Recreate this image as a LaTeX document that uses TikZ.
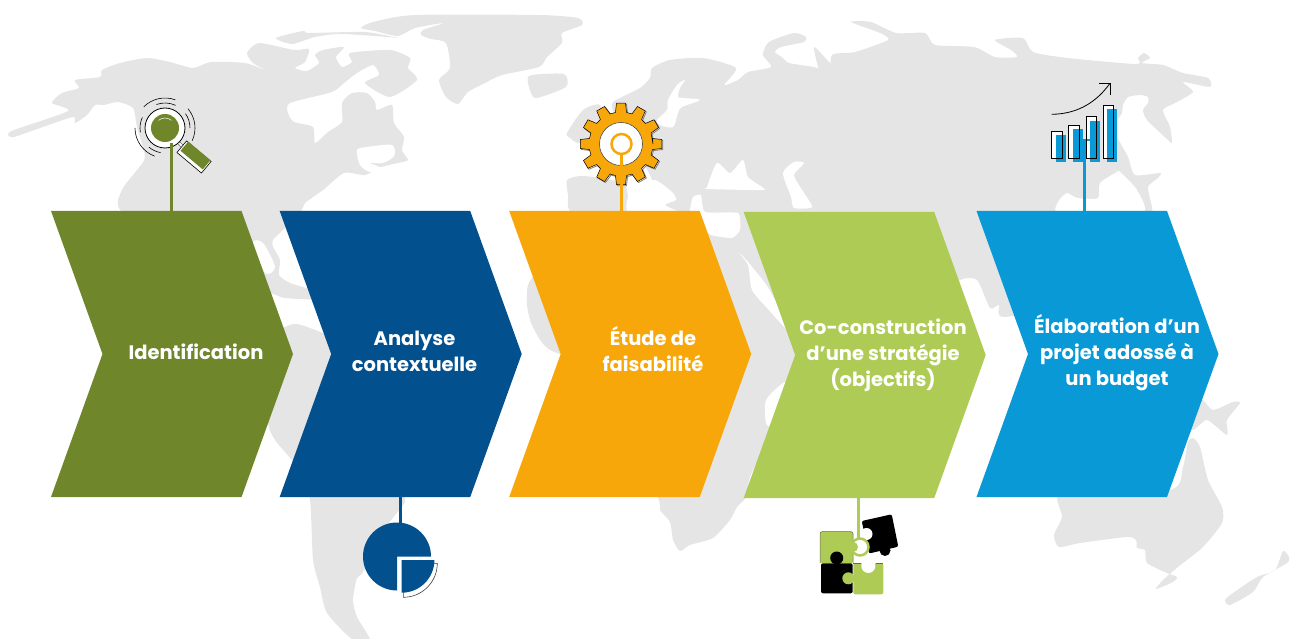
\documentclass[tikz,border=0pt]{standalone}
\usepackage{fontspec}
\setmainfont{Poppins}
\usetikzlibrary{shapes.symbols}
\definecolor{landgray}{HTML}{E5E5E5}
\definecolor{olivegreen}{HTML}{6F862B}
\definecolor{navyblue}{HTML}{03508F}
\definecolor{amber}{HTML}{F8A70A}
\definecolor{limegreen}{HTML}{AECB55}
\definecolor{skyblue}{HTML}{0899D6}
\tikzset{
	chevron/.style={signal, signal from=west, signal to=east, signal pointer angle=140.4, minimum width=242pt, minimum height=286pt, inner sep=0pt, outer sep=0pt},
	steptext/.style={align=center, text=white, inner sep=0pt, font=\bfseries\fontsize{19.5}{26}\selectfont},
	stem/.style={line width=3pt},
	land/.style={fill=landgray, draw=none},
	sea/.style={fill=white, draw=none},
	inkline/.style={black, line width=0.6pt},
}
\newcommand{\gearoutline}{(0:32) \foreach \a in {0,30,...,330} {-- (\a-10:32) -- (\a-6.3:41) -- (\a+6.3:41) -- (\a+10:32)} -- cycle}

\begin{document}
\begin{tikzpicture}[x=1pt,y=-1pt]
	\useasboundingbox (0,0) rectangle (1293,639);
	\fill[land] plot[smooth cycle, tension=0.4] coordinates {(8,135) (14,130) (68,111) (52,103) (62,93) (79,88) (75,80) (100,77) (102,70) (120,63) (147,58) (170,62) (193,68) (211,62) (245,63) (265,70) (253,63) (247,53) (259,43) (294,50) (309,49) (305,62) (295,68) (307,71) (319,63) (315,55) (323,50) (344,47) (336,57) (342,67) (352,62) (350,53) (390,50) (410,58) (408,68) (417,80) (390,97) (365,83) (379,75) (373,65) (357,73) (344,83) (332,92) (290,103) (288,113) (294,122) (313,127) (315,143) (328,132) (342,122) (342,103) (352,93) (367,93) (375,102) (377,110) (392,105) (394,123) (404,137) (402,150) (408,160) (398,163) (381,167) (365,175) (344,173) (323,190) (305,203) (301,212) (283,230) (273,240) (273,247) (280,260) (279,275) (290,283) (308,289) (312,299) (285,298) (276,295) (262,290) (200,260) (122,212) (122,190) (137,170) (145,157) (137,127) (133,108) (118,102) (104,105) (95,105) (87,115) (75,123) (73,117) (40,128) (14,137)};
	\fill[sea] plot[smooth cycle, tension=0.5] coordinates {(357,150) (367,147) (392,145) (394,156) (383,163) (370,163) (381,168) (370,172) (360,165)};
	\fill[sea] plot[smooth cycle, tension=0.5] coordinates {(253,243) (263,243) (275,267) (265,273)};
	\fill[land] plot[smooth cycle, tension=0.4] coordinates {(276,38) (303,31) (309,33) (365,32) (398,38) (388,37) (340,34) (315,37) (292,44)};
	\fill[land] plot[smooth cycle, tension=0.4] coordinates {(361,28) (373,22) (415,15) (539,15) (578,18) (582,25) (562,33) (562,43) (547,57) (539,67) (502,75) (485,83) (468,92) (458,104) (446,97) (439,80) (450,68) (446,43) (431,39) (421,35) (423,30) (444,23) (415,28) (398,36) (375,31)};
	\fill[land] plot[smooth cycle, tension=0.4] coordinates {(529,76) (564,74) (566,87) (537,98) (531,93)};
	\fill[land] plot[smooth cycle, tension=0.4] coordinates {(567,133) (583,110) (600,105) (605,130) (580,143) (570,138)};
	\fill[land] plot[smooth cycle, tension=0.4] coordinates {(567,180) (580,176) (600,178) (625,185) (625,212) (572,212) (568,195)};
	\fill[land] plot[smooth cycle, tension=0.4] coordinates {(652,68) (670,60) (703,58) (736,68) (724,85) (738,80) (748,72) (771,67) (763,55) (769,42) (794,33) (806,37) (804,42) (781,47) (775,52) (783,58) (789,63) (814,67) (818,68) (814,47) (830,63) (841,75) (832,77) (832,55) (855,52) (888,40) (880,33) (851,22) (871,22) (896,33) (925,33) (935,45) (974,47) (995,57) (1017,57) (1011,50) (995,40) (1023,38) (1033,52) (1068,58) (1136,64) (1138,58) (1144,53) (1150,58) (1142,63) (1163,65) (1183,73) (1208,78) (1210,87) (1183,82) (1193,92) (1175,103) (1163,110) (1170,127) (1172,143) (1168,140) (1147,120) (1143,110) (1148,103) (1148,97) (1140,95) (1128,97) (1123,105) (1122,113) (1113,127) (1117,137) (1128,157) (1135,175) (1160,173) (1158,178) (1148,187) (1152,207) (1152,215) (1150,300) (1100,300) (1005,317) (999,305) (990,308) (977,280) (960,280) (940,300) (800,400) (700,300) (650,175) (620,135) (612,105) (620,98) (640,88) (650,78)};
	\fill[land] plot[smooth cycle, tension=0.4] coordinates {(600,225) (540,270) (528,285) (527,305) (532,325) (550,350) (620,380) (658,497) (660,510) (670,522) (673,540) (680,551) (690,545) (713,538) (730,520) (737,507) (746,497) (752,472) (790,400) (780,300) (700,215)};
	\fill[sea] plot[smooth cycle, tension=0.5] coordinates {(685,80) (677,85) (668,100) (667,110) (657,120) (660,125) (673,127) (678,113) (682,107) (700,100) (683,98) (678,97) (680,88)};
	\fill[sea] plot[smooth cycle, tension=0.4] coordinates {(707,187) (717,163) (730,173) (743,160) (748,177) (762,187) (762,190) (707,189)};
	\fill[sea] plot[smooth cycle, tension=0.4] coordinates {(783,173) (794,162) (804,163) (794,175) (802,190) (812,207) (794,208) (791,197)};
	\fill[sea] plot[smooth cycle, tension=0.3] coordinates {(693,197) (701,195) (705,212) (738,213) (740,230) (732,238) (711,235) (700,225) (690,212)};
	\fill[sea] plot[smooth cycle, tension=0.4] coordinates {(628,197) (640,187) (655,180) (672,192) (676,200) (665,205) (680,214) (630,214)};
	\fill[sea] plot[smooth cycle, tension=0.4] coordinates {(739,253) (748,262) (765,283) (775,300) (790,332) (785,328) (767,308) (752,290) (748,265)};
	\fill[sea] plot[smooth cycle, tension=0.4] coordinates {(783,383) (768,397) (765,405) (767,425) (785,425) (800,380)};
	\fill[sea] plot[smooth cycle, tension=0.4] coordinates {(1058,202) (1067,193) (1077,198) (1098,198) (1100,183) (1117,172) (1120,172) (1137,190) (1142,214) (1060,214)};
	\fill[land] plot[smooth cycle, tension=0.4] coordinates {(275,335) (285,327) (297,324) (323,333) (360,350) (405,420) (405,497) (403,505) (380,535) (363,572) (357,578) (353,600) (357,617) (370,640) (353,640) (327,613) (320,587) (313,560) (310,500) (300,470) (292,460) (275,440) (268,423) (270,380)};
	\fill[land] plot[smooth cycle, tension=0.4] coordinates {(1062,490) (1062,517) (1054,535) (1059,547) (1080,543) (1127,537) (1136,540) (1137,548) (1145,550) (1147,563) (1167,573) (1177,577) (1173,582) (1156,589) (1163,580) (1178,567) (1203,547) (1222,523) (1222,507) (1208,480) (1200,447) (1193,438) (1188,442) (1183,467) (1170,490)};
	\fill[land] plot[smooth cycle, tension=0.4] coordinates {(1190,395) (1203,400) (1213,410) (1233,402) (1240,403) (1227,420) (1227,435) (1207,420) (1193,430) (1180,420)};
	\fill[land] plot[smooth cycle, tension=0.4] coordinates {(1225,600) (1230,605) (1253,592) (1263,577) (1287,563) (1289,557) (1283,551) (1275,570) (1257,577) (1233,593)};

	\node[chevron, fill=olivegreen] (stepident) at (172,354) {};
	\node[chevron, fill=navyblue] (stepcontext) at (400.7,354) {};
	\node[chevron, fill=amber] (stepstudy) at (630.2,354) {};
	\node[chevron, fill=limegreen] (stepstrategy) at (864.7,355) {};
	\node[chevron, fill=skyblue] (stepbudget) at (1097.5,354) {};
	\node[steptext] (labelident) at (196,352) {Identification};
	\node[steptext] (labelcontext) at (414.5,351) {Analyse\\contextuelle};
	\node[steptext] (labelstudy) at (653,349.5) {Étude de\\faisabilité};
	\node[steptext] (labelstrategy) at (883,355) {Co-construction\\d’une stratégie\\(objectifs)};
	\node[steptext] (labelbudget) at (1117,353) {Élaboration d’un\\projet adossé à\\un budget};

	\draw[black!70, line width=3pt] (177,141) -- (185,149);
	\draw[white, line width=2pt] (177,141) -- (185,149);
	\node[fill=white, draw=black, line width=0.6pt, rotate=-40, minimum width=32pt, minimum height=15pt, inner sep=0pt] (loupecase) at (194,157) {};
	\node[fill=olivegreen, rotate=-40, minimum width=29pt, minimum height=12pt, inner sep=0pt] (loupehandle) at (195.5,155.5) {};
	\node[circle, fill=white, draw=black, line width=0.8pt, minimum size=40pt, inner sep=0pt] (loupering) at (165,128) {};
	\node[circle, fill=olivegreen, minimum size=28pt, inner sep=0pt] (loupe) at (165,128) {};
	\draw[white, line width=0.5pt] (165,128) ++(230:10) arc[start angle=230, end angle=310, radius=10];
	\foreach \r/\a/\b in {30/225/290,30/320/385,30/110/180,25/250/295,25/170/205,25/100/130,25/325/360} {
		\draw[inkline] (165,128) ++(\a:\r) arc[start angle=\a, end angle=\b, radius=\r];
	}
	\coordinate (loupefoot) at (171.5,143);
	\draw[stem, olivegreen] (loupefoot) -- (loupefoot |- stepident.north);

	\begin{scope}[shift={(622,145)}]
		\draw[gray, line width=0.8pt] \gearoutline;
	\end{scope}
	\begin{scope}[shift={(621,144)}]
		\fill[amber, draw=black, line width=0.5pt] \gearoutline;
		\node[circle, fill=white, draw=black!70, line width=0.6pt, minimum size=43pt, inner sep=0pt] (gearhole) at (0,0) {};
	\end{scope}
	\node[circle, fill=white, draw=amber, line width=2.5pt, minimum size=20pt, inner sep=0pt] (gear) at (621.5,144) {};
	\coordinate (gearfoot) at (621.5,155);
	\draw[stem, amber] (gearfoot) -- (gearfoot |- stepstudy.north);

	\foreach \x/\y in {1051.7/131.7,1068.7/125.3,1086/116.7,1103.3/105} {
		\fill[white] (\x,\y) rectangle (\x+10.6,158.3);
	}
	\foreach \x/\y in {1055.7/135.3,1072.7/129,1090/120.7,1107.3/108.7} {
		\fill[skyblue] (\x,\y) rectangle (\x+10,161.7);
	}
	\coordinate (chartfoot) at (1084.5,140);
	\draw[stem, skyblue] (chartfoot) -- (chartfoot |- stepbudget.north);
	\draw[skyblue, line width=2pt] (1080,140.5) -- (1091,140.5);
	\foreach \x/\y in {1051.7/131.7,1068.7/125.3,1086/116.7,1103.3/105} {
		\draw[inkline, line width=0.9pt] (\x,\y) rectangle (\x+10.6,158.3);
	}
	\draw[inkline, line width=0.8pt] (1051.7,114.3) .. controls (1080,114) and (1098,100) .. (1110,83.3);
	\draw[inkline, line width=0.8pt] (1099,83.3) -- (1110,83.3) -- (1110,95);

	\fill[navyblue] (397,556.5) -- (397,590.5) arc[start angle=90, end angle=360, radius=34] -- cycle;
	\fill[navyblue] (401.7,560) -- (434.4,560) arc[start angle=0, end angle=90, radius=32.7] -- cycle;
	\draw[inkline, black!75] (403.3,563.3) -- (437.3,563.3) arc[start angle=0, end angle=90, radius=34] -- cycle;
	\coordinate (piefoot) at (400.5,524);
	\draw[stem, navyblue] (piefoot) -- (piefoot |- stepcontext.south);

	\fill[limegreen, rounded corners=2pt] (820,531.7) rectangle (853,563.3);
	\draw[black!60, line width=0.5pt, rounded corners=2pt] (853,563) -- (853,531.7) -- (820,531.7) -- (820,563);
	\fill[black, rounded corners=2pt] (821,563.3) rectangle (852.7,593.3);
	\fill[black] (836.7,558) circle (6.5);
	\fill[limegreen, rounded corners=2pt] (853.3,563.3) rectangle (883.3,594.3);
	\fill[limegreen] (848.3,578.3) circle (6);
	\fill[white] (868.3,566) circle (7);
	\draw[black!60, line width=0.5pt] (853.3,563.3) -- (861,563.3) (875.5,563.3) -- (883.3,563.3);
	\fill[black, rounded corners=2pt] (861.7,521) -- (891.7,514.3) -- (898.3,546.7) -- (869,553.5) -- cycle;
	\fill[black] (885,550.5) circle (5.5);
	\fill[white] (866.5,534) circle (6);
	\node[circle, fill=white, draw=limegreen, line width=2.5pt, minimum size=17pt, inner sep=0pt] (puzzlering) at (860,547) {};
	\fill[limegreen] (853,547) circle (5);
	\coordinate (puzzlefoot) at (858.3,538.5);
	\draw[stem, limegreen] (puzzlefoot) -- (puzzlefoot |- stepstrategy.south);
\end{tikzpicture}
\end{document}
